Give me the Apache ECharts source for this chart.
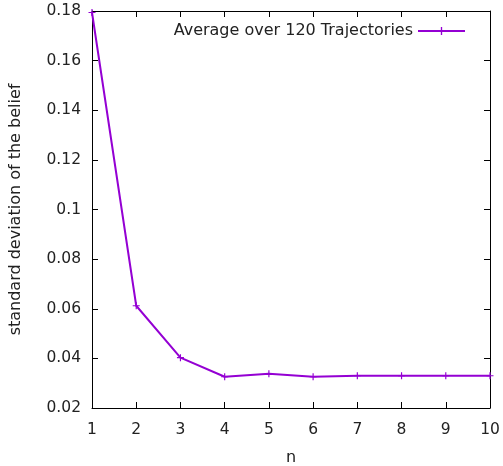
<!DOCTYPE html>
<html><head><meta charset="utf-8">
<script src="https://cdn.jsdelivr.net/npm/echarts@6/dist/echarts.min.js"></script>
<style>html,body{margin:0;padding:0;background:#fff}#c{width:503px;height:466px}</style>
</head><body><div id="c"></div>
<script>
const nValues = [1, 2, 3, 4, 5, 6, 7, 8, 9, 10];
const stdValues = [0.1794, 0.0612, 0.0403, 0.0326, 0.0338, 0.0326, 0.0330, 0.0330, 0.0330, 0.0330];
const seriesName = 'Average over 120 Trajectories';
const xTitle = 'n';
const yTitle = 'standard deviation of the belief';

const font = 'DejaVu Sans';
const plus = 'path://M4,0h1.6v4h4v1.6h-4v4h-1.6v-4h-4v-1.6h4z';
const chart = echarts.init(document.getElementById('c'), null, {renderer: 'canvas'});
const axisLine = {show: true, lineStyle: {color: '#000', width: 1}};
const tick = {show: true, inside: true, length: 6, lineStyle: {color: '#000'}};
chart.setOption({
  animation: false,
  textStyle: {fontFamily: font},
  grid: {left: 92, right: 13, top: 11, bottom: 58, containLabel: false, outerBoundsMode: 'none'},
  legend: {
    data: [seriesName],
    right: 32, top: 18, align: 'right',
    itemWidth: 47, itemHeight: 10, itemGap: 6,
    textStyle: {fontFamily: font, fontSize: 16, color: '#222'}
  },
  xAxis: [{
    type: 'value', min: 1, max: 10, interval: 1,
    name: xTitle, nameLocation: 'middle', nameGap: 42,
    nameTextStyle: {fontFamily: font, fontSize: 16, color: '#222'},
    axisLine, axisTick: tick,
    axisLabel: {fontFamily: font, fontSize: 15.5, color: '#222', margin: 14},
    splitLine: {show: false}
  }, {
    type: 'value', min: 1, max: 10, interval: 1, position: 'top',
    axisLine, axisTick: tick,
    axisLabel: {show: false}, splitLine: {show: false}
  }],
  yAxis: [{
    type: 'value', min: 0.02, max: 0.18, interval: 0.02,
    name: yTitle, nameLocation: 'middle', nameGap: 68, nameRotate: 90,
    nameTextStyle: {fontFamily: font, fontSize: 16, color: '#222'},
    axisLine, axisTick: tick,
    axisLabel: {fontFamily: font, fontSize: 15.5, color: '#222', margin: 11,
      formatter: v => String(parseFloat(v.toFixed(2)))},
    splitLine: {show: false}
  }, {
    type: 'value', min: 0.02, max: 0.18, interval: 0.02, position: 'right',
    axisLine, axisTick: tick,
    axisLabel: {show: false}, splitLine: {show: false}
  }],
  series: [{
    name: seriesName, type: 'line',
    data: nValues.map((n, i) => [n, stdValues[i]]),
    symbol: plus, symbolSize: 7, showSymbol: true,
    lineStyle: {color: '#9400d3', width: 2},
    itemStyle: {color: '#9400d3'},
    clip: false
  }]
});
</script></body></html>
